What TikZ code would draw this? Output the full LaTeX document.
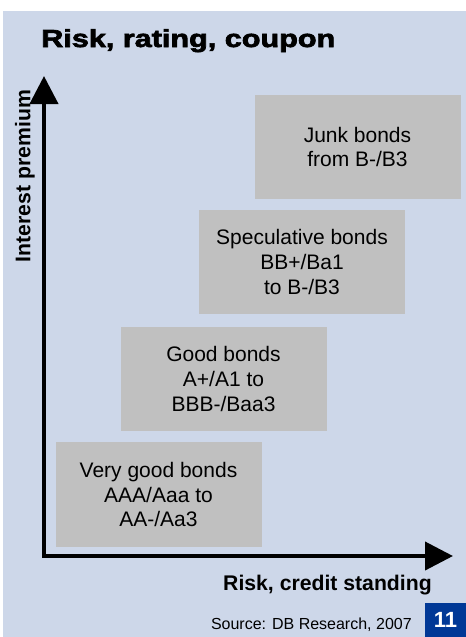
\documentclass[tikz,border=0pt]{standalone}
\usepackage{fontspec}
\setmainfont{Liberation Sans}
\newfontfamily\headfont[FakeBold=2.5]{Liberation Sans}
\usetikzlibrary{arrows.meta}
\definecolor{panelblue}{RGB}{205,215,233}
\definecolor{bondgray}{RGB}{192,192,192}
\definecolor{pageblue}{RGB}{0,56,150}
\begin{document}
\begin{tikzpicture}[x=0.75pt,y=-0.75pt,>={Triangle[length=21pt,width=21pt]},
    bond/.style={fill=bondgray,minimum width=154.5pt,minimum height=78.5pt,align=center,inner sep=0pt,font=\fontsize{15.75}{18.4}\selectfont},
    axislabel/.style={inner sep=0pt,font=\fontsize{15.9}{18}\selectfont\bfseries}]
    \useasboundingbox(0,0)rectangle(466,637);
    \fill[panelblue](3,11)rectangle(466,637);
    \node[anchor=base west,inner sep=0pt](title)at(41,47){\headfont\bfseries\fontsize{18.5}{20}\selectfont\scalebox{1.24}[1]{Risk, rating, coupon}};
    % rating classes
    \node[bond](junk)at(357.5,147){Junk bonds\\from B-/B3};
    \node[bond](spec)at(302,262){Speculative bonds\\BB+/Ba1\\to B-/B3};
    \node[bond](good)at(223.5,379){Good bonds\\A+/A1 to\\BBB-/Baa3};
    \node[bond](vgood)at(158.5,494.5){Very good bonds\\AAA/Aaa to\\AA-/Aa3};
    % axes
    \coordinate(O)at(44,556);
    \coordinate(ytop)at(44,76);
    \coordinate(xend)at(453,556);
    \draw[line width=3pt,<->](ytop)--(O)--(xend);
    \node[axislabel,rotate=90](ylab)at(25,176){Interest premium};
    \node[axislabel,anchor=base east](xlab)at(432,590){Risk, credit standing};
    \node[anchor=base east,inner sep=0pt,font=\fontsize{12}{14}\selectfont](src)at(412,629){Source: DB Research, 2007};
    \node[fill=pageblue,text=white,minimum width=30.75pt,minimum height=25.5pt,inner sep=0pt,font=\fontsize{16.5}{18}\selectfont\bfseries](page)at(445.5,620){11};
\end{tikzpicture}
\end{document}
